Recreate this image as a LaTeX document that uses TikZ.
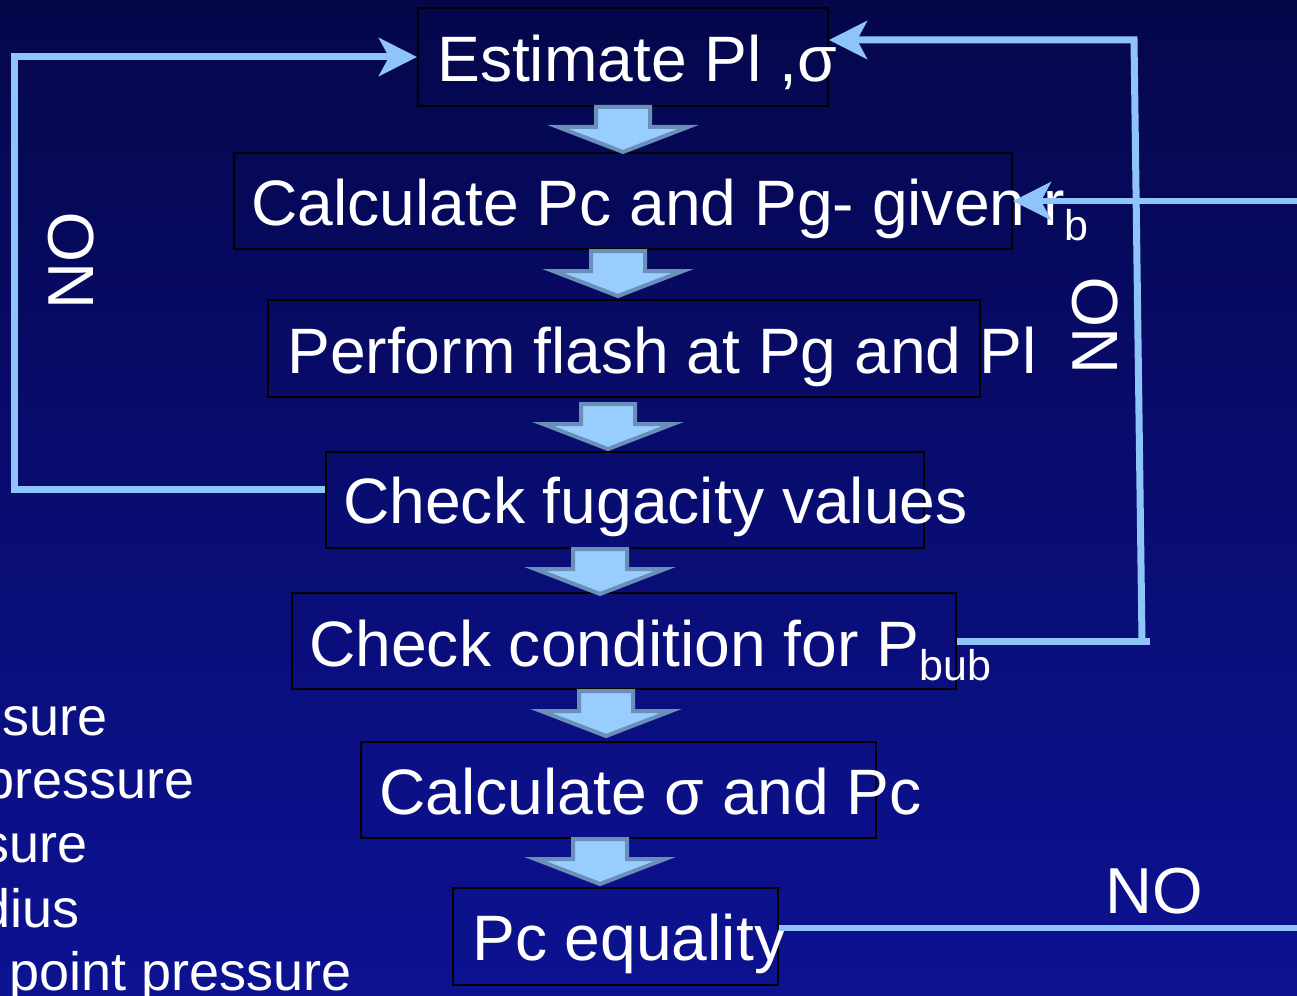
\documentclass[tikz,border=0pt]{standalone}
\usepackage{fontspec}
\setmainfont{Liberation Sans}
\usetikzlibrary{arrows.meta}
\definecolor{bgtop}{RGB}{2,3,36}
\definecolor{bgmidA}{RGB}{5,8,82}
\definecolor{bgmidB}{RGB}{11,16,135}
\definecolor{bgbot}{RGB}{17,24,168}
\definecolor{linkblue}{RGB}{143,196,248}
\definecolor{arrfill}{RGB}{153,204,255}
\definecolor{arredge}{RGB}{106,143,184}
\pgfdeclareverticalshading{bgshade}{100bp}{color(0bp)=(bgbot); color(35bp)=(bgmidB); color(70bp)=(bgmidA); color(100bp)=(bgtop)}
\begin{document}
\begin{tikzpicture}[x=1pt,y=-1pt,
  box/.style={draw=black, line width=2pt, inner sep=0pt, rectangle},
  boxtext/.style={text=white, anchor=base west, inner sep=0pt, font=\fontsize{64.2}{70}\selectfont},
  sidetext/.style={text=white, anchor=base east, inner sep=0pt, font=\fontsize{54}{60}\selectfont},
  notext/.style={text=white, inner sep=0pt, anchor=base, font=\fontsize{65}{70}\selectfont},
  link/.style={draw=linkblue, line width=7pt, line join=miter},
  thinlink/.style={draw=linkblue, line width=6pt},
  tipped/.style={-{Stealth[length=38pt,width=38pt,inset=10pt]}},
  downarr/.pic={\draw[draw=arredge, fill=arrfill, line width=4pt, line join=miter]
      (-27,2) -- (27,2) -- (27,22) -- (65,22) -- (0,47) -- (-65,22) -- (-27,22) -- cycle;}
]
\useasboundingbox (0,0) rectangle (1297,995);
\shade[shading=bgshade] (0,0) rectangle (1297,995);

% boxes
\node[box, minimum width=410pt, minimum height=98pt] (b1) at (623,57) {};
\node[box, minimum width=778pt, minimum height=96pt] (b2) at (623,201) {};
\node[box, minimum width=712pt, minimum height=97pt] (b3) at (624,348.5) {};
\node[box, minimum width=598pt, minimum height=96pt] (b4) at (624.5,500) {};
\node[box, minimum width=664pt, minimum height=96pt] (b5) at (623.5,641) {};
\node[box, minimum width=515pt, minimum height=96pt] (b6) at (618.5,790) {};
\node[box, minimum width=325pt, minimum height=97pt] (b7) at (615.5,936.5) {};

% box texts
\node[boxtext] (t1) at (437,82) {Estimate Pl ,σ};
\node[boxtext] (t2) at (251,225) {Calculate Pc and Pg- given r\raisebox{-15pt}{\fontsize{43}{48}\selectfont b}};
\node[boxtext] (t3) at (287,373) {Perform flash at Pg and Pl};
\node[boxtext] (t4) at (343,523) {Check fugacity values};
\node[boxtext] (t5) at (309,666) {Check condition for P\raisebox{-14pt}{\fontsize{43}{48}\selectfont bub}};
\node[boxtext] (t6) at (379,814) {Calculate σ and Pc};
\node[boxtext] (t7) at (472,960) {Pc equality};

% block arrows
\pic at (623,105) {downarr};
\pic at (618,249) {downarr};
\pic at (608,402) {downarr};
\pic at (600,547) {downarr};
\pic at (606,689) {downarr};
\pic at (600,837) {downarr};

% connectors
\coordinate (cl) at (14,489);
\draw[link, tipped] (b4.west |- cl) -- (cl) |- (b1.west);

\coordinate (crb) at (1150,641);
\coordinate (crv) at (1142,641);
\coordinate (crt) at (1134,40);
\draw[link] (b5.east |- crb) -- (crb);
\draw[link, tipped] (crv) -- (crt) -- (b1.east |- crt);

\coordinate (er) at (1297,201);
\draw[thinlink, tipped] (er) -- (b2.east |- er);

\coordinate (eb) at (1297,928);
\draw[thinlink] (b7.east |- eb) -- (eb);

% NO labels
\node[notext, rotate=90] (no1) at (93,261) {NO};
\node[notext, rotate=90] (no2) at (1117,326) {NO};
\node[notext] (no3) at (1154,913) {NO};

% partial side texts
\node[sidetext] (s1) at (108,735) {ssure};
\node[sidetext] (s2) at (195,798) {pressure};
\node[sidetext] (s3) at (88,862) {sure};
\node[sidetext] (s4) at (80,927) {dius};
\node[sidetext] (s5) at (352,990) {point pressure};
\end{tikzpicture}
\end{document}
